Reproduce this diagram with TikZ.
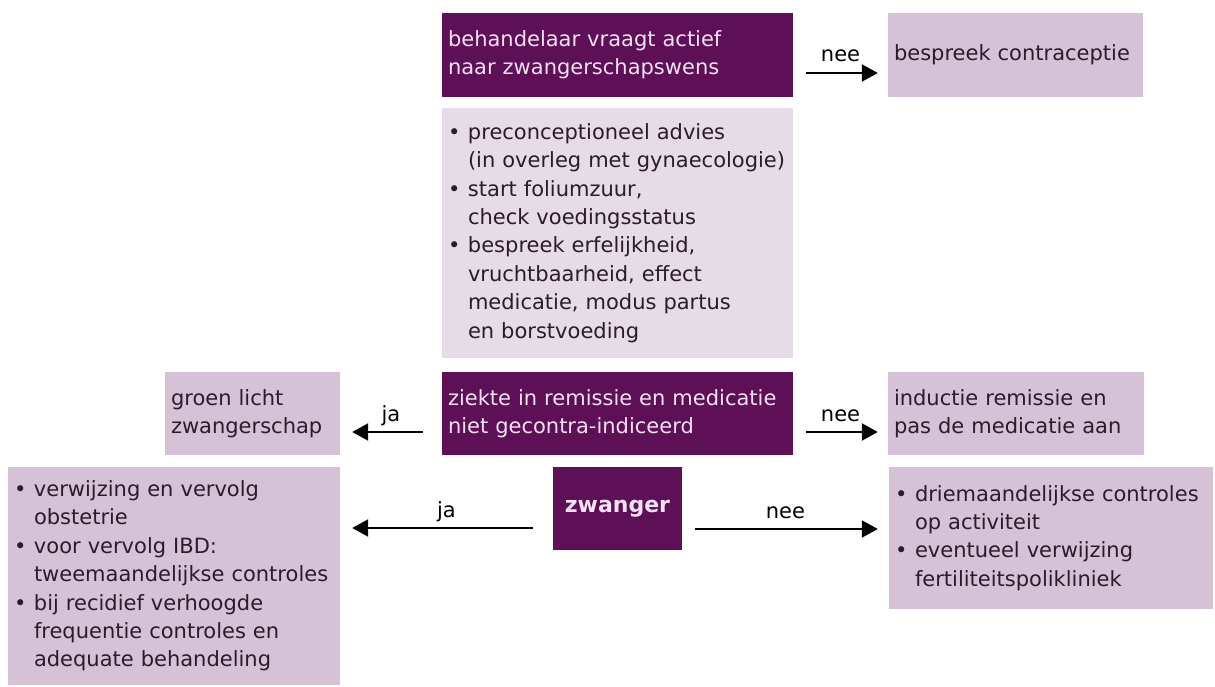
\documentclass[tikz,border=0pt]{standalone}
\usepackage{fontspec}
\setmainfont{DejaVu Sans}
\usetikzlibrary{arrows.meta}
\definecolor{darkp}{HTML}{5E1057}
\definecolor{darktxt}{HTML}{F3E2F3}
\definecolor{lightp}{HTML}{D5C2D6}
\definecolor{palep}{HTML}{E6DCE8}
\definecolor{lighttxt}{HTML}{2B1B2B}
\newcommand\mybul{\makebox[20pt][l]{•}}
\newcommand\myind{\hspace*{20pt}}
\begin{document}
\begin{tikzpicture}[x=1pt,y=-1pt,
  box/.style={inner xsep=6pt, inner ysep=0pt, align=left, anchor=center,
    font=\fontsize{21pt}{28.4pt}\selectfont},
  darkbox/.style={box, fill=darkp, text=darktxt},
  lightbox/.style={box, fill=lightp, text=lighttxt},
  palebox/.style={box, fill=palep, text=lighttxt},
  arr/.style={line width=2.2pt, -{Triangle[length=16pt,width=17pt]}},
  lbl/.style={anchor=base, inner sep=0pt, yshift=11pt, text=black,
    font=\fontsize{21pt}{25pt}\selectfont}
]
\useasboundingbox[fill=white] (0,0) rectangle (1215,687);

\node[darkbox, minimum width=351pt, minimum height=84pt, text width=339pt] (b1) at (617.5,55)
  {behandelaar vraagt actief\\naar zwangerschapswens};
\node[lightbox, minimum width=255pt, minimum height=84pt, text width=243pt] (contra) at (1015.5,55)
  {bespreek contraceptie};
\node[palebox, minimum width=351pt, minimum height=250pt, text width=339pt] (advies) at (617.5,233)
  {\mybul preconceptioneel advies\\
   \myind(in overleg met gynaecologie)\\
   \mybul start foliumzuur,\\
   \myind check voedingsstatus\\
   \mybul bespreek erfelijkheid,\\
   \myind vruchtbaarheid, effect\\
   \myind medicatie, modus partus\\
   \myind en borstvoeding};
\node[darkbox, minimum width=351pt, minimum height=83pt, text width=339pt] (ziekte) at (617.5,413.5)
  {ziekte in remissie en medicatie\\niet gecontra-indiceerd};
\node[lightbox, minimum width=175pt, minimum height=83pt, text width=163pt] (groen) at (252.5,413.5)
  {groen licht\\zwangerschap};
\node[lightbox, minimum width=256pt, minimum height=83pt, text width=244pt] (inductie) at (1016,413.5)
  {inductie remissie en\\pas de medicatie aan};
\node[darkbox, minimum width=129pt, minimum height=83pt, text width=117pt, align=center,
  font=\fontsize{22pt}{28.4pt}\selectfont\bfseries] (zwanger) at (617.5,508.5)
  {zwanger};
\node[lightbox, minimum width=332pt, minimum height=218pt, text width=320pt] (links) at (174,576)
  {\mybul verwijzing en vervolg\\
   \myind obstetrie\\
   \mybul voor vervolg IBD:\\
   \myind tweemaandelijkse controles\\
   \mybul bij recidief verhoogde\\
   \myind frequentie controles en\\
   \myind adequate behandeling};
\node[lightbox, minimum width=324pt, minimum height=142pt, text width=312pt] (rechts) at (1051,538)
  {\mybul driemaandelijkse controles\\
   \myind op activiteit\\
   \mybul eventueel verwijzing\\
   \myind fertiliteitspolikliniek};

\draw[arr, shorten <=13pt, shorten >=10pt] ([yshift=-18pt]b1.east) --
  node[lbl] {nee} ([yshift=-18pt]b1.east -| contra.west);
\draw[arr, shorten <=19pt, shorten >=12pt] ([yshift=-18.5pt]ziekte.west) --
  node[lbl] {ja} ([yshift=-18.5pt]ziekte.west -| groen.east);
\draw[arr, shorten <=13pt, shorten >=10pt] ([yshift=-18.5pt]ziekte.east) --
  node[lbl] {nee} ([yshift=-18.5pt]ziekte.east -| inductie.west);
\draw[arr, shorten <=20pt, shorten >=12pt] ([yshift=-19.5pt]zwanger.west) --
  node[lbl] {ja} ([yshift=-19.5pt]zwanger.west -| links.east);
\draw[arr, shorten <=13pt, shorten >=11pt] ([yshift=-20.5pt]zwanger.east) --
  node[lbl] {nee} ([yshift=-20.5pt]zwanger.east -| rechts.west);
\end{tikzpicture}
\end{document}
